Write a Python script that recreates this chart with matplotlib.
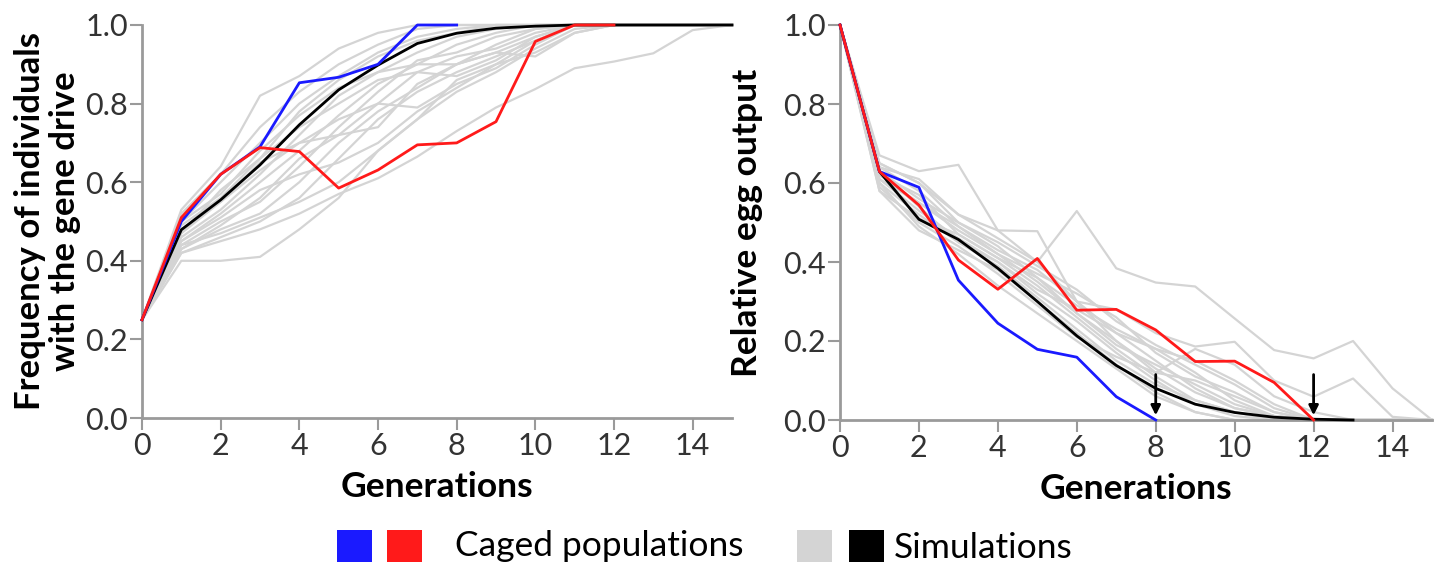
import matplotlib
matplotlib.use("Agg")
import matplotlib.pyplot as plt
from matplotlib.patches import Rectangle

plt.rcParams['font.family'] = ['Lato', 'DejaVu Sans']

generations = list(range(16))

# Left panel: frequency of individuals with the gene drive
left_blue = [0.25, 0.50, 0.62, 0.69, 0.853, 0.867, 0.90, 1.0, 1.0]
left_red = [0.25, 0.51, 0.62, 0.688, 0.678, 0.585, 0.631, 0.695, 0.70, 0.754, 0.958, 1.0, 1.0]
left_black = [0.25, 0.479, 0.555, 0.644, 0.746, 0.835, 0.898, 0.953, 0.979, 0.992, 0.997, 1.0, 1.0, 1.0, 1.0, 1.0]
left_gray = [
    [0.25, 0.53, 0.64, 0.82, 0.87, 0.94, 0.98, 1.0, 1.0, 1.0, 1.0, 1.0, 1.0, 1.0, 1.0, 1.0],
    [0.25, 0.52, 0.62, 0.74, 0.83, 0.90, 0.95, 0.99, 1.0, 1.0, 1.0, 1.0, 1.0, 1.0, 1.0, 1.0],
    [0.25, 0.50, 0.60, 0.70, 0.80, 0.87, 0.93, 0.97, 0.99, 1.0, 1.0, 1.0, 1.0, 1.0, 1.0, 1.0],
    [0.25, 0.47, 0.58, 0.66, 0.78, 0.86, 0.92, 0.96, 0.98, 1.0, 1.0, 1.0, 1.0, 1.0, 1.0, 1.0],
    [0.25, 0.46, 0.53, 0.62, 0.72, 0.82, 0.88, 0.93, 0.97, 0.99, 1.0, 1.0, 1.0, 1.0, 1.0, 1.0],
    [0.25, 0.45, 0.52, 0.60, 0.68, 0.77, 0.85, 0.90, 0.95, 0.98, 1.0, 1.0, 1.0, 1.0, 1.0, 1.0],
    [0.25, 0.44, 0.50, 0.55, 0.64, 0.74, 0.83, 0.91, 0.93, 0.97, 0.99, 1.0, 1.0, 1.0, 1.0, 1.0],
    [0.25, 0.47, 0.55, 0.65, 0.70, 0.72, 0.80, 0.88, 0.92, 0.94, 0.98, 1.0, 1.0, 1.0, 1.0, 1.0],
    [0.25, 0.43, 0.48, 0.52, 0.60, 0.70, 0.78, 0.84, 0.90, 0.95, 0.99, 1.0, 1.0, 1.0, 1.0, 1.0],
    [0.25, 0.42, 0.46, 0.50, 0.56, 0.66, 0.76, 0.83, 0.88, 0.92, 0.96, 1.0, 1.0, 1.0, 1.0, 1.0],
    [0.25, 0.44, 0.47, 0.51, 0.55, 0.60, 0.68, 0.76, 0.86, 0.90, 0.93, 0.98, 1.0, 1.0, 1.0, 1.0],
    [0.25, 0.40, 0.40, 0.41, 0.48, 0.56, 0.68, 0.76, 0.83, 0.88, 0.94, 0.99, 1.0, 1.0, 1.0, 1.0],
    [0.25, 0.42, 0.45, 0.48, 0.52, 0.57, 0.61, 0.665, 0.73, 0.79, 0.837, 0.89, 0.907, 0.928, 0.987, 1.0],
    [0.25, 0.48, 0.55, 0.63, 0.70, 0.76, 0.80, 0.79, 0.85, 0.89, 0.95, 1.0, 1.0, 1.0, 1.0, 1.0],
    [0.25, 0.45, 0.51, 0.58, 0.62, 0.65, 0.70, 0.78, 0.84, 0.90, 0.96, 1.0, 1.0, 1.0, 1.0, 1.0],
    [0.25, 0.49, 0.56, 0.66, 0.74, 0.80, 0.86, 0.88, 0.87, 0.91, 0.97, 1.0, 1.0, 1.0, 1.0, 1.0],
    [0.25, 0.50, 0.57, 0.68, 0.77, 0.84, 0.88, 0.90, 0.90, 0.93, 0.92, 0.98, 1.0, 1.0, 1.0, 1.0],
    [0.25, 0.43, 0.49, 0.56, 0.66, 0.72, 0.74, 0.85, 0.90, 0.93, 0.97, 1.0, 1.0, 1.0, 1.0, 1.0],
]

# Right panel: relative egg output
right_blue = [1.0, 0.629, 0.589, 0.354, 0.245, 0.179, 0.159, 0.059, 0.0]
right_red = [1.0, 0.629, 0.544, 0.405, 0.331, 0.409, 0.278, 0.28, 0.228, 0.148, 0.149, 0.095, 0.0]
right_black = [1.0, 0.629, 0.508, 0.457, 0.384, 0.30, 0.213, 0.138, 0.08, 0.04, 0.019, 0.007, 0.002, 0.0]
right_gray = [
    [1.0, 0.67, 0.63, 0.646, 0.48, 0.40, 0.30, 0.22, 0.15, 0.08, 0.03, 0.01, 0.0, 0.0, 0.0, 0.0],
    [1.0, 0.65, 0.60, 0.52, 0.46, 0.40, 0.529, 0.384, 0.348, 0.338, 0.257, 0.177, 0.156, 0.20, 0.08, 0.0],
    [1.0, 0.64, 0.61, 0.52, 0.48, 0.478, 0.30, 0.28, 0.22, 0.186, 0.198, 0.10, 0.059, 0.105, 0.008, 0.0],
    [1.0, 0.62, 0.55, 0.48, 0.42, 0.35, 0.27, 0.20, 0.13, 0.07, 0.03, 0.01, 0.0, 0.0, 0.0, 0.0],
    [1.0, 0.60, 0.52, 0.45, 0.40, 0.32, 0.25, 0.17, 0.10, 0.04, 0.01, 0.0, 0.0, 0.0, 0.0, 0.0],
    [1.0, 0.58, 0.48, 0.43, 0.38, 0.30, 0.22, 0.14, 0.07, 0.02, 0.0, 0.0, 0.0, 0.0, 0.0, 0.0],
    [1.0, 0.63, 0.56, 0.50, 0.44, 0.36, 0.29, 0.23, 0.18, 0.12, 0.05, 0.01, 0.0, 0.0, 0.0, 0.0],
    [1.0, 0.61, 0.53, 0.46, 0.40, 0.33, 0.28, 0.22, 0.18, 0.15, 0.10, 0.04, 0.0, 0.0, 0.0, 0.0],
    [1.0, 0.59, 0.50, 0.44, 0.37, 0.29, 0.21, 0.16, 0.12, 0.18, 0.14, 0.06, 0.02, 0.0, 0.0, 0.0],
    [1.0, 0.60, 0.49, 0.42, 0.34, 0.27, 0.20, 0.13, 0.06, 0.02, 0.0, 0.0, 0.0, 0.0, 0.0, 0.0],
    [1.0, 0.62, 0.57, 0.47, 0.41, 0.34, 0.26, 0.18, 0.11, 0.05, 0.02, 0.0, 0.0, 0.0, 0.0, 0.0],
    [1.0, 0.64, 0.58, 0.49, 0.43, 0.38, 0.30, 0.20, 0.12, 0.10, 0.06, 0.02, 0.0, 0.0, 0.0, 0.0],
    [1.0, 0.65, 0.60, 0.50, 0.45, 0.39, 0.33, 0.25, 0.19, 0.14, 0.09, 0.03, 0.0, 0.0, 0.0, 0.0],
    [1.0, 0.58, 0.51, 0.47, 0.41, 0.36, 0.27, 0.19, 0.14, 0.09, 0.04, 0.01, 0.0, 0.0, 0.0, 0.0],
    [1.0, 0.63, 0.54, 0.45, 0.39, 0.31, 0.23, 0.15, 0.09, 0.05, 0.02, 0.0, 0.0, 0.0, 0.0, 0.0],
    [1.0, 0.61, 0.55, 0.49, 0.42, 0.37, 0.32, 0.26, 0.17, 0.11, 0.07, 0.02, 0.0, 0.0, 0.0, 0.0],
]

arrow_x = [8, 12]

x_ticks = [0, 2, 4, 6, 8, 10, 12, 14]
y_ticks = [0.0, 0.2, 0.4, 0.6, 0.8, 1.0]

GRAY = '#d4d4d4'
BLUE = '#1a1aff'
RED = '#ff1a1a'
SPINE = '#9a9a9a'
TXT = '#333333'

fig = plt.figure(figsize=(14.4, 5.67), dpi=100)
axL = fig.add_axes([142/1440, 1-418/567, 590/1440, 393/567])
axR = fig.add_axes([840/1440, 1-420/567, 592/1440, 395/567])


def style(ax, ylabel, ysize, ypad):
    ax.set_xlim(0, 15)
    ax.set_ylim(0, 1.0)
    ax.set_xticks(x_ticks)
    ax.set_yticks(y_ticks)
    ax.set_yticklabels([f"{v:.1f}" for v in y_ticks])
    for s in ['top', 'right']:
        ax.spines[s].set_visible(False)
    for s in ['left', 'bottom']:
        ax.spines[s].set_color(SPINE)
        ax.spines[s].set_linewidth(2)
    ax.tick_params(axis='both', colors=SPINE, labelcolor=TXT, labelsize=22,
                   length=8.5, width=1.5, pad=1.5)
    ax.set_xlabel('Generations', fontsize=25.5, fontweight='bold', color='black', labelpad=8)
    ax.set_ylabel(ylabel, fontsize=ysize, fontweight='bold', color='black', labelpad=ypad,
                  linespacing=1.12)
    for sp in ax.spines.values():
        sp.set_clip_on(False)


for g in left_gray:
    axL.plot(generations[:len(g)], g, color=GRAY, lw=1.6, clip_on=False, zorder=2)
axL.plot(generations[:len(left_black)], left_black, color='black', lw=2.0, clip_on=False, zorder=3)
axL.plot(generations[:len(left_blue)], left_blue, color=BLUE, lw=2.0, clip_on=False, zorder=4)
axL.plot(generations[:len(left_red)], left_red, color=RED, lw=2.0, clip_on=False, zorder=5)
style(axL, 'Frequency of individuals\nwith the gene drive', 25, 3)

for g in right_gray:
    axR.plot(generations[:len(g)], g, color=GRAY, lw=1.6, clip_on=False, zorder=2)
axR.plot(generations[:len(right_black)], right_black, color='black', lw=2.0, clip_on=False, zorder=3)
axR.plot(generations[:len(right_blue)], right_blue, color=BLUE, lw=2.0, clip_on=False, zorder=4)
axR.plot(generations[:len(right_red)], right_red, color=RED, lw=2.0, clip_on=False, zorder=5)
style(axR, 'Relative egg output', 25.5, 15)

for ax_x in arrow_x:
    axR.annotate('', xy=(ax_x, 0.012), xytext=(ax_x, 0.115),
                 arrowprops=dict(arrowstyle='-|>', color='black', lw=2.0,
                                 mutation_scale=14, shrinkA=0, shrinkB=0),
                 zorder=6)

# Legend
legend_items = [
    (BLUE, 337), (RED, 387), (GRAY, 797), ('black', 849),
]
for col, px in legend_items:
    fig.patches.append(Rectangle((px/1440, 1-562/567), 35/1440, 32/567,
                                 transform=fig.transFigure, facecolor=col,
                                 edgecolor='none'))
fig.text(455/1440, 1-546/567, 'Caged populations', fontsize=25.5, color='black',
         va='center', ha='left')
fig.text(894/1440, 1-548/567, 'Simulations', fontsize=25.5, color='black',
         va='center', ha='left')

fig.savefig('out.png', dpi=100)
